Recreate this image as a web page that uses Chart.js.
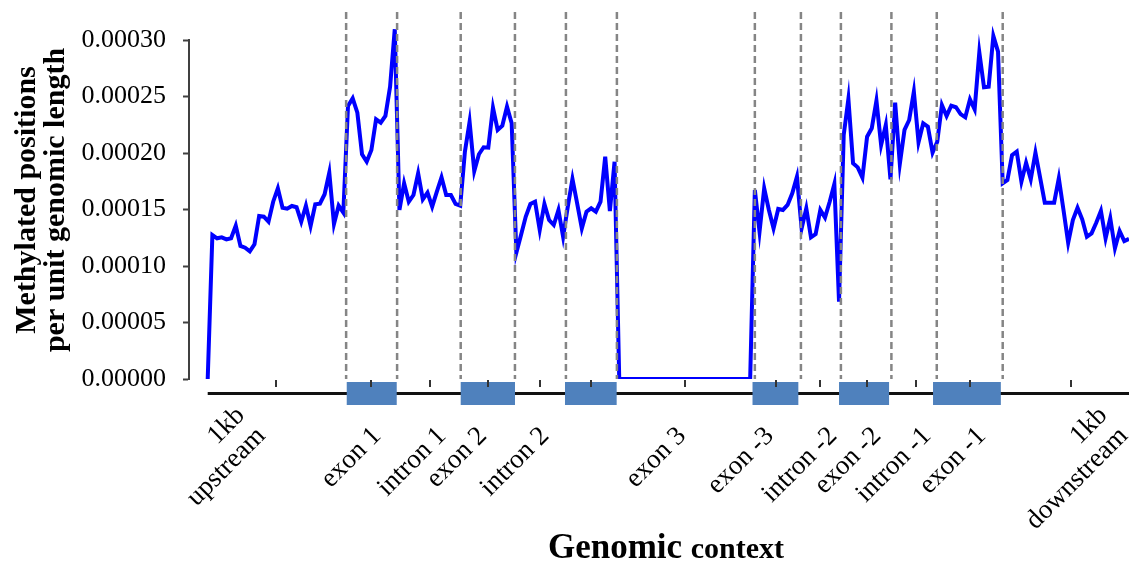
<!DOCTYPE html>
<html>
<head>
<meta charset="utf-8">
<script src="https://cdn.jsdelivr.net/npm/chart.js@4.4.1/dist/chart.umd.min.js"></script>
<style>
  html, body { margin: 0; padding: 0; background: #ffffff; overflow: hidden; width: 1129px; height: 562px; }
  canvas { display: block; }
</style>
</head>
<body>
<canvas id="chart" width="1160" height="562"></canvas>
<script>
// ---- Data: methylated positions per unit genomic length, one value per bin, by region ----
const upstreamVals = [0, 0.0001274, 0.0001245, 0.0001254, 0.0001236, 0.0001245, 0.0001357, 0.0001177, 0.0001162, 0.000113,
  0.0001192, 0.0001443, 0.0001436, 0.0001392, 0.0001569, 0.0001688, 0.0001516, 0.0001507, 0.0001531, 0.000152,
  0.0001392, 0.0001534, 0.0001354, 0.0001546, 0.0001551, 0.0001635, 0.0001826, 0.0001372, 0.0001534, 0.0001472];
const exon1Vals = [0.0002416, 0.0002484, 0.0002357, 0.0001989, 0.0001923, 0.0002027, 0.0002298, 0.0002268, 0.0002328, 0.0002587, 0.0003095];
const intron1Vals = [0.0001496, 0.0001732, 0.0001569, 0.0001628, 0.000182, 0.000159, 0.0001649, 0.0001525, 0.0001658, 0.0001785,
  0.0001628, 0.0001628, 0.0001549, 0.0001534];
const exon2Vals = [0.0002012, 0.0002277, 0.0001841, 0.0001989, 0.0002051, 0.0002047, 0.0002401, 0.0002204, 0.0002242, 0.000241, 0.0002263];
const intron2Vals = [0.0001118, 0.0001274, 0.0001436, 0.0001549, 0.0001569, 0.0001319, 0.0001549, 0.0001407, 0.0001363, 0.0001496, 0.0001259];
const exonBVals = [0.0001525, 0.000177, 0.0001555, 0.0001333, 0.0001481, 0.0001511, 0.0001481, 0.0001569, 0.0001967, 0.0001487, 0.0001923];
const exon3Vals = [0, 0, 0, 0, 0, 0, 0, 0, 0, 0, 0, 0, 0, 0, 0, 0, 0, 0, 0, 0, 0, 0, 0, 0, 0, 0, 0, 0, 0];
const exonM3Vals = [0.0001673, 0.0001304, 0.0001688, 0.0001496, 0.0001333, 0.0001505, 0.0001496, 0.000154, 0.0001643, 0.000179];
const intronM2Vals = [0.0001333, 0.0001511, 0.0001254, 0.0001283, 0.0001496, 0.0001428, 0.0001569, 0.0001726, 0.0000684];
const exonM2Vals = [0.0002159, 0.0002478, 0.0001909, 0.0001873, 0.0001782, 0.0002144, 0.0002219, 0.0002463, 0.0002071, 0.0002248, 0.0001767];
const intronM1Vals = [0.0002445, 0.0001903, 0.0002204, 0.0002292, 0.0002543, 0.0002095, 0.0002263, 0.0002233, 0.0002003, 0.00021];
const exonM1Vals = [0.0002425, 0.0002328, 0.0002419, 0.0002405, 0.0002345, 0.0002316, 0.0002475, 0.0002387, 0.0002891, 0.0002582,
  0.0002587, 0.0003036, 0.0002897];
const downstreamVals = [0.0001732, 0.0001761, 0.0001982, 0.0002012, 0.0001746, 0.0001914, 0.0001767, 0.0002003, 0.0001782, 0.000156,
  0.000156, 0.000156, 0.0001776, 0.0001496, 0.0001206, 0.0001407, 0.0001516, 0.0001413, 0.0001259, 0.0001289,
  0.0001383, 0.0001487, 0.0001245, 0.0001422, 0.0001157, 0.000131, 0.0001221, 0.000124];

// ---- Gene model (positions in bin units) ----
const regionBoundaries = [29.6, 40.5, 54.1, 65.7, 76.6, 87.5, 117.0, 126.85, 135.4, 146.2, 155.9, 170.0];
const exonBoxes = [[29.73, 40.42], [54.1, 65.71], [76.4, 87.45], [116.5, 126.3], [135.0, 145.7], [155.1, 169.6]];
const regionTicks = [14.5, 35, 47.5, 60, 71, 82, 102, 121.5, 131, 141, 151.5, 163, 184.5];
const categoryLabels = [['1kb', 'upstream'], ['exon 1'], ['intron 1'], ['exon 2'], ['intron 2'], ['exon 3'],
  ['exon -3'], ['intron -2'], ['exon -2'], ['intron -1'], ['exon -1'], ['1kb', 'downstream']];
const categoryLabelPos = [12.76, 37.5, 51.4, 60.1, 73.4, 102.7, 121.5, 135.0, 144.4, 155.1, 166.8, 197.2];

// ---- Axes ----
const yMin = 0, yMax = 0.0003, yStep = 0.00005;
const xMin = -4, xMax = 200;
const yTitle = ['Methylated positions', 'per unit genomic length'];
const xTitleMain = 'Genomic', xTitleSub = 'context';

const allVals = [].concat(upstreamVals, exon1Vals, intron1Vals, exon2Vals, intron2Vals, exonBVals, exon3Vals,
  exonM3Vals, intronM2Vals, exonM2Vals, intronM1Vals, exonM1Vals, downstreamVals);
const points = allVals.map((v, i) => ({ x: i, y: v }));

const SERIF = '"Liberation Serif", "Times New Roman", serif';

const geneModelPlugin = {
  id: 'geneModel',
  afterDatasetsDraw(chart) {
    const { ctx, chartArea, scales: { x } } = chart;
    ctx.save();
    ctx.strokeStyle = '#858585';
    ctx.lineWidth = 2.5;
    ctx.setLineDash([7, 4]);
    regionBoundaries.forEach(b => {
      const px = x.getPixelForValue(b);
      ctx.beginPath();
      ctx.moveTo(px, chartArea.top - 28);
      ctx.lineTo(px, chartArea.bottom);
      ctx.stroke();
    });
    ctx.restore();
  },
  afterDraw(chart) {
    const { ctx, chartArea, scales: { x } } = chart;
    const trackY = chartArea.bottom + 14.5;
    ctx.save();
    // backbone line
    ctx.strokeStyle = '#111111';
    ctx.lineWidth = 3;
    ctx.beginPath();
    ctx.moveTo(x.getPixelForValue(0), trackY);
    ctx.lineTo(chart.width, trackY);
    ctx.stroke();
    // exon boxes
    ctx.fillStyle = '#4F81BD';
    exonBoxes.forEach(([a, b]) => {
      const x0 = x.getPixelForValue(a), x1 = x.getPixelForValue(b);
      ctx.fillRect(x0, trackY - 11.5, x1 - x0, 23);
    });
    // small ticks
    ctx.strokeStyle = '#333333';
    ctx.lineWidth = 2;
    regionTicks.forEach(t => {
      const px = Math.round(x.getPixelForValue(t));
      ctx.beginPath();
      ctx.moveTo(px, chartArea.bottom + 1);
      ctx.lineTo(px, chartArea.bottom + 8);
      ctx.stroke();
    });
    // category labels, rotated 45 degrees
    ctx.fillStyle = '#000000';
    ctx.font = '27px ' + SERIF;
    ctx.textAlign = 'right';
    ctx.textBaseline = 'middle';
    const lh = 29, d = Math.SQRT1_2;
    const baseY = chartArea.bottom + 59;
    categoryLabels.forEach((lines, k) => {
      const ax = x.getPixelForValue(categoryLabelPos[k]);
      const n = lines.length;
      lines.forEach((line, j) => {
        const m = j - (n - 1);
        ctx.save();
        ctx.translate(ax + m * lh * d, baseY + m * lh * d);
        ctx.rotate(-Math.PI / 4);
        ctx.fillText(line, 0, -8.5);
        ctx.restore();
      });
    });
    // y axis title (two lines, rotated)
    ctx.font = 'bold 30px ' + SERIF;
    ctx.textAlign = 'center';
    ctx.textBaseline = 'alphabetic';
    const yMid = chartArea.top + 160;
    yTitle.forEach((line, j) => {
      ctx.save();
      ctx.translate(35 + j * 29, yMid);
      ctx.rotate(-Math.PI / 2);
      ctx.fillText(line, 0, 0);
      ctx.restore();
    });
    // x axis title
    const cx = (chartArea.left + chartArea.right) / 2;
    ctx.textAlign = 'left';
    ctx.font = 'bold 35px ' + SERIF;
    const w1 = ctx.measureText(xTitleMain + ' ').width;
    ctx.font = 'bold 30px ' + SERIF;
    const w2 = ctx.measureText(xTitleSub).width;
    const start = cx - (w1 + w2) / 2;
    ctx.font = 'bold 35px ' + SERIF;
    ctx.fillText(xTitleMain + ' ', start, 558);
    ctx.font = 'bold 30px ' + SERIF;
    ctx.fillText(xTitleSub, start + w1, 558);
    ctx.restore();
  }
};

new Chart(document.getElementById('chart'), {
  type: 'line',
  data: {
    datasets: [{
      data: points,
      borderColor: '#0000FF',
      borderWidth: 4,
      pointRadius: 0,
      tension: 0,
      fill: false,
      clip: { left: false, top: false, right: false, bottom: 0 }
    }]
  },
  options: {
    responsive: false,
    animation: false,
    devicePixelRatio: 1,
    layout: { padding: { top: 40, right: 17, bottom: 0, left: 0 } },
    plugins: { legend: { display: false }, tooltip: { enabled: false } },
    scales: {
      x: {
        type: 'linear',
        min: xMin,
        max: xMax,
        ticks: { display: false },
        grid: { display: false },
        border: { display: false },
        afterFit: s => { s.height = 183; }
      },
      y: {
        min: yMin,
        max: yMax,
        ticks: {
          stepSize: yStep,
          padding: 17,
          color: '#000000',
          font: { family: SERIF, size: 26 },
          callback: v => Number(v).toFixed(5)
        },
        grid: { drawOnChartArea: false, drawTicks: true, tickLength: 6, tickWidth: 2, tickColor: '#404040' },
        border: { display: true, color: '#404040', width: 2 },
        title: { display: false },
        afterFit: s => { s.width = 189; }
      }
    }
  },
  plugins: [geneModelPlugin]
});
</script>
</body>
</html>
